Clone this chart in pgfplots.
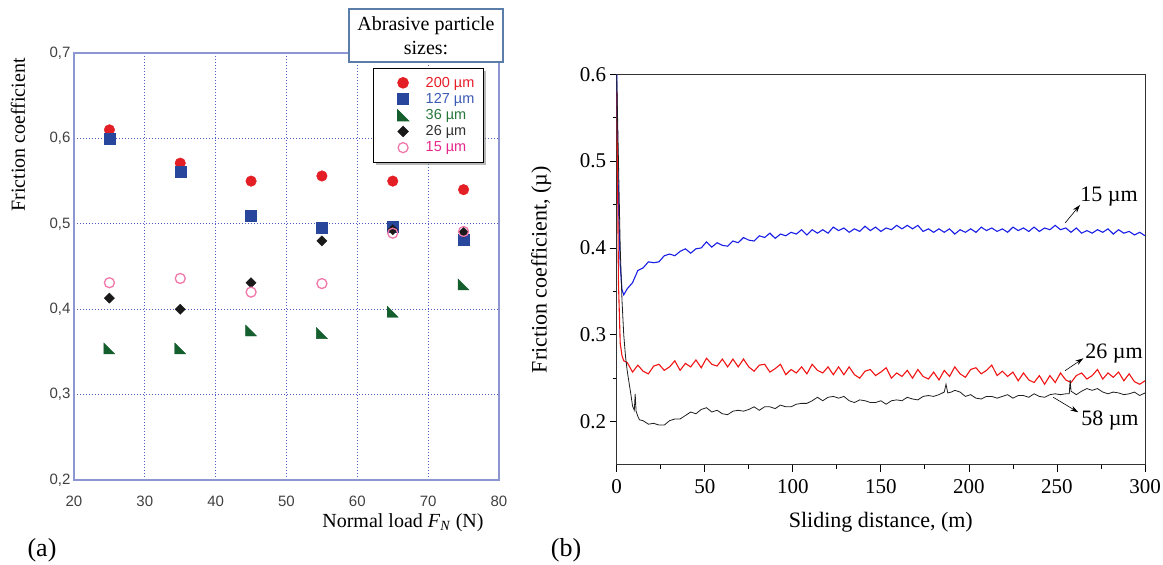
\documentclass[border=0pt]{standalone}
\usepackage{pgfplots}
\pgfplotsset{compat=1.18}
\usepackage{fontspec}
\setmainfont{Liberation Serif}
\newfontfamily\sans{Liberation Sans}
\usetikzlibrary{shadows,arrows.meta}
\definecolor{gridblue}{RGB}{80,95,200}
\definecolor{frameblue}{RGB}{140,150,210}
\definecolor{titleblue}{RGB}{90,125,170}
\definecolor{cRed}{RGB}{227,30,36}
\definecolor{cBlue}{RGB}{40,70,155}
\definecolor{cGreen}{RGB}{20,95,45}
\definecolor{cBlack}{RGB}{25,25,25}
\definecolor{cPink}{RGB}{240,120,170}
\definecolor{tRed}{RGB}{230,30,40}
\definecolor{tBlue}{RGB}{60,90,180}
\definecolor{tGreen}{RGB}{40,120,60}
\definecolor{tDark}{RGB}{50,50,50}
\definecolor{tPink}{RGB}{230,40,140}
\definecolor{lBlue}{RGB}{25,30,230}
\definecolor{lRed}{RGB}{240,20,20}
\definecolor{lBlack}{RGB}{30,30,30}
\pgfdeclareplotmark{rtri}{%
  \pgfpathmoveto{\pgfqpoint{-\pgfplotmarksize}{\pgfplotmarksize}}%
  \pgfpathlineto{\pgfqpoint{-\pgfplotmarksize}{-\pgfplotmarksize}}%
  \pgfpathlineto{\pgfqpoint{\pgfplotmarksize}{-\pgfplotmarksize}}%
  \pgfpathclose
  \pgfusepathqfillstroke}
\begin{document}
\begin{tikzpicture}[x=1pt,y=1pt]
\useasboundingbox (0,0) rectangle (1163,565);
% ---------------- (a) ----------------
\begin{axis}[
  at={(74pt,85pt)}, anchor=south west, scale only axis,
  width=425pt, height=427pt,
  xmin=20, xmax=80, ymin=0.2, ymax=0.7,
  xtick={20,30,40,50,60,70,80},
  ytick={0.2,0.3,0.4,0.5,0.6,0.7},
  grid=major,
  major grid style={color=gridblue, line width=0.7pt, dash pattern=on 1pt off 2pt},
  axis line style={color=frameblue, line width=1.2pt},
  major tick length=0pt,
  tick label style={font=\sans\fontsize{15}{17}\selectfont, text=black!75},
  xticklabel style={yshift=-12pt},
  /pgf/number format/assume math mode=true,
  yticklabel style={/pgf/number format/.cd, fixed, fixed zerofill, precision=1, use comma},
  xlabel={Normal load \textit{F}\textsubscript{\textit{N}} (N)},
  xlabel style={at={(axis description cs:0.774,-0.1007)}, anchor=center, font=\fontsize{20}{22}\selectfont},
  ylabel={Friction coefficient},
  ylabel style={at={(axis description cs:-0.132,0.808)}, anchor=center, font=\fontsize{20}{22}\selectfont},
  legend cell align=left,
  legend image code/.code={\path (0pt,-3pt) (42pt,3pt); \draw[#1] plot coordinates {(22pt,0pt)};},
  legend style={at={(axis cs:62.2,0.683)}, anchor=north west, draw=black, line width=1pt, fill=white,
    font=\sans\fontsize{14.5}{16.5}\selectfont, inner xsep=7pt, inner ysep=7pt, row sep=0.6pt,
    drop shadow={shadow xshift=3pt, shadow yshift=-3pt, fill=black!55}},
]
\addplot[only marks, mark=*, mark size=5.3pt, color=cRed] coordinates {
 (25,0.610) (35,0.571) (45,0.550) (55,0.556) (65,0.550) (75,0.540)};
\addlegendentry{\textcolor{tRed}{200 µm}}
\addplot[only marks, mark=square*, mark size=5.5pt, color=cBlue] coordinates {
 (25,0.600) (35,0.561) (45,0.510) (55,0.496) (65,0.497) (75,0.481)};
\addlegendentry{\textcolor{tBlue}{127 µm}}
\addplot[only marks, mark=rtri, mark size=5.5pt, color=cGreen] coordinates {
 (25,0.354) (35,0.354) (45,0.375) (55,0.372) (65,0.397) (75,0.429)};
\addlegendentry{\textcolor{tGreen}{36 µm}}
\addplot[only marks, mark=square*, mark size=3.6pt, mark options={rotate=45}, color=cBlack] coordinates {
 (25,0.413) (35,0.400) (45,0.431) (55,0.480) (65,0.493) (75,0.490)};
\addlegendentry{\textcolor{tDark}{26 µm}}
\addplot[only marks, mark=o, mark size=5pt, line width=1.3pt, color=cPink] coordinates {
 (25,0.431) (35,0.436) (45,0.420) (55,0.430) (65,0.489) (75,0.491)};
\addlegendentry{\textcolor{tPink}{15 µm}}
\end{axis}
\node[draw=titleblue, line width=1.5pt, fill=white, minimum width=154pt, minimum height=53pt,
  align=center, inner sep=0pt, font=\fontsize{20}{24}\selectfont] at (426,529.5) {Abrasive particle\\sizes:};
\node[font=\fontsize{26}{28}\selectfont] at (42,15) {(a)};
\node[font=\fontsize{26}{28}\selectfont] at (566,15) {(b)};
% ---------------- (b) ----------------
\begin{axis}[
  at={(616.7pt,100pt)}, anchor=south west, scale only axis,
  width=528.3pt, height=390.7pt,
  xmin=0, xmax=300, ymin=0.15, ymax=0.6,
  xtick={0,50,100,150,200,250,300},
  ytick={0.2,0.3,0.4,0.5,0.6},
  minor xtick={25,75,125,175,225,275},
  minor ytick={0.25,0.35,0.45,0.55},
  tick align=outside, xtick pos=bottom, ytick pos=left,
  major tick length=7pt, minor tick length=4pt,
  tick style={black, line width=0.8pt},
  axis line style={black!80, line width=1pt},
  tick label style={font=\fontsize{21}{24}\selectfont},
  xticklabel style={yshift=-4pt},
  /pgf/number format/assume math mode=true,
  yticklabel style={/pgf/number format/.cd, fixed, fixed zerofill, precision=1},
  xlabel={Sliding distance, (m)},
  xlabel style={at={(axis description cs:0.5,-0.146)}, anchor=center, font=\fontsize{22}{24}\selectfont},
  ylabel={Friction coefficient, (µ)},
  ylabel style={at={(axis description cs:-0.143,0.5)}, anchor=center, font=\fontsize{22}{24}\selectfont},
  clip mode=individual,
]
\addplot[color=lBlue, line width=1.1pt] coordinates {
(0,0.600)(1,0.450)(2,0.380)(3,0.352)(4,0.346)(6,0.353)(9,0.360)(12,0.374)(15,0.377)(18,0.384)
(21,0.383)(24,0.384)(27,0.391)(30,0.393)(33,0.391)(36,0.396)(39,0.399)(42,0.394)(45,0.399)(48,0.400)
(51,0.407)(54,0.401)(57,0.406)(60,0.403)(63,0.402)(66,0.408)(69,0.406)(72,0.412)(75,0.409)(78,0.408)
(81,0.414)(84,0.412)(87,0.417)(90,0.411)(93,0.416)(96,0.414)(99,0.418)(102,0.416)(105,0.421)(108,0.415)
(111,0.421)(114,0.417)(117,0.421)(120,0.417)(123,0.424)(126,0.420)(129,0.423)(132,0.418)(135,0.422)(138,0.419)
(141,0.425)(144,0.420)(147,0.424)(150,0.419)(153,0.423)(156,0.421)(159,0.426)(162,0.422)(165,0.426)(168,0.422)
(171,0.426)(174,0.419)(177,0.422)(180,0.418)(183,0.422)(186,0.418)(189,0.422)(192,0.416)(195,0.421)(198,0.418)
(201,0.422)(204,0.418)(207,0.424)(210,0.420)(213,0.423)(216,0.419)(219,0.422)(222,0.418)(225,0.424)(228,0.420)
(231,0.423)(234,0.419)(237,0.424)(240,0.419)(243,0.423)(246,0.421)(249,0.426)(252,0.421)(255,0.423)(258,0.418)
(261,0.423)(264,0.417)(267,0.420)(270,0.417)(273,0.421)(276,0.418)(279,0.422)(282,0.416)(285,0.421)(288,0.417)
(291,0.419)(294,0.415)(297,0.418)(300,0.414)};
\addplot[color=lRed, line width=1.1pt] coordinates {
(0,0.580)(0.5,0.480)(1,0.360)(2,0.290)(3,0.276)(4,0.270)(6,0.268)(9,0.257)(12,0.265)(15,0.258)
(18,0.255)(21,0.264)(24,0.266)(27,0.259)(30,0.263)(33,0.270)(36,0.259)(39,0.267)(42,0.263)(45,0.271)
(48,0.262)(51,0.273)(54,0.266)(57,0.264)(60,0.272)(63,0.263)(66,0.272)(69,0.263)(72,0.272)(75,0.263)
(78,0.258)(81,0.265)(84,0.266)(87,0.257)(90,0.261)(93,0.266)(96,0.254)(99,0.260)(102,0.256)(105,0.263)
(108,0.255)(111,0.266)(114,0.259)(117,0.256)(120,0.263)(123,0.254)(126,0.263)(129,0.254)(132,0.263)(135,0.254)
(138,0.250)(141,0.258)(144,0.260)(147,0.253)(150,0.257)(153,0.262)(156,0.250)(159,0.256)(162,0.252)(165,0.259)
(168,0.250)(171,0.260)(174,0.252)(177,0.249)(180,0.257)(183,0.248)(186,0.259)(189,0.252)(192,0.263)(195,0.255)
(198,0.251)(201,0.260)(204,0.262)(207,0.255)(210,0.259)(213,0.265)(216,0.253)(219,0.258)(222,0.252)(225,0.257)
(228,0.247)(231,0.256)(234,0.248)(237,0.245)(240,0.253)(243,0.243)(246,0.253)(249,0.245)(252,0.256)(255,0.248)
(258,0.245)(261,0.253)(264,0.256)(267,0.249)(270,0.253)(273,0.260)(276,0.249)(279,0.256)(282,0.251)(285,0.257)
(288,0.247)(291,0.255)(294,0.246)(297,0.243)(300,0.247)};
\addplot[color=lBlack, line width=0.8pt] coordinates {
(0,0.600)(1,0.500)(2,0.400)(3,0.340)(4,0.300)(5,0.275)(6,0.258)(7,0.245)(8,0.232)(9,0.218)
(10,0.213)(10.5,0.232)(11,0.212)(12,0.206)(13,0.202)(15,0.201)(18,0.197)(21,0.198)(24,0.196)(27,0.196)
(30,0.201)(33,0.203)(36,0.203)(39,0.207)(42,0.211)(45,0.209)(48,0.214)(51,0.216)(54,0.211)(57,0.213)
(60,0.209)(63,0.208)(66,0.212)(69,0.213)(72,0.212)(75,0.214)(78,0.217)(81,0.213)(84,0.217)(87,0.217)
(90,0.215)(93,0.219)(96,0.217)(99,0.217)(102,0.220)(105,0.221)(108,0.221)(111,0.224)(114,0.228)(117,0.224)
(120,0.228)(123,0.229)(126,0.227)(129,0.229)(132,0.224)(135,0.222)(138,0.225)(141,0.224)(144,0.222)(147,0.222)
(150,0.224)(153,0.220)(156,0.224)(159,0.225)(162,0.224)(165,0.228)(168,0.226)(171,0.225)(174,0.229)(177,0.230)
(180,0.229)(183,0.231)(186,0.234)(187,0.243)(188,0.233)(190,0.234)(192,0.236)(195,0.234)(198,0.229)(201,0.231)
(204,0.227)(207,0.226)(210,0.229)(213,0.229)(216,0.227)(219,0.229)(222,0.231)(225,0.227)(228,0.230)(231,0.230)
(234,0.228)(237,0.232)(240,0.229)(243,0.228)(246,0.231)(249,0.232)(252,0.231)(255,0.232)(257,0.232)(257.5,0.248)
(258,0.235)(261,0.231)(264,0.235)(267,0.238)(270,0.236)(273,0.238)(276,0.234)(279,0.232)(282,0.234)(285,0.233)
(288,0.231)(291,0.232)(294,0.234)(297,0.230)(300,0.233)};
\draw[line width=0.6pt, -{Stealth[length=8pt,width=5pt]}] (axis cs:254.6,0.4287) -- (axis cs:263.1,0.4495);
\draw[line width=0.6pt, -{Stealth[length=8pt,width=5pt]}] (axis cs:254.6,0.2586) -- (axis cs:265,0.2729);
\draw[line width=0.6pt, -{Stealth[length=8pt,width=5pt]}] (axis cs:247.9,0.228) -- (axis cs:262.1,0.2107);
\node[font=\fontsize{22}{24}\selectfont] at (axis cs:279.6,0.459) {15 µm};
\node[font=\fontsize{22}{24}\selectfont] at (axis cs:282.4,0.2786) {26 µm};
\node[font=\fontsize{22}{24}\selectfont] at (axis cs:280.1,0.201) {58 µm};
\end{axis}
\end{tikzpicture}
\end{document}
